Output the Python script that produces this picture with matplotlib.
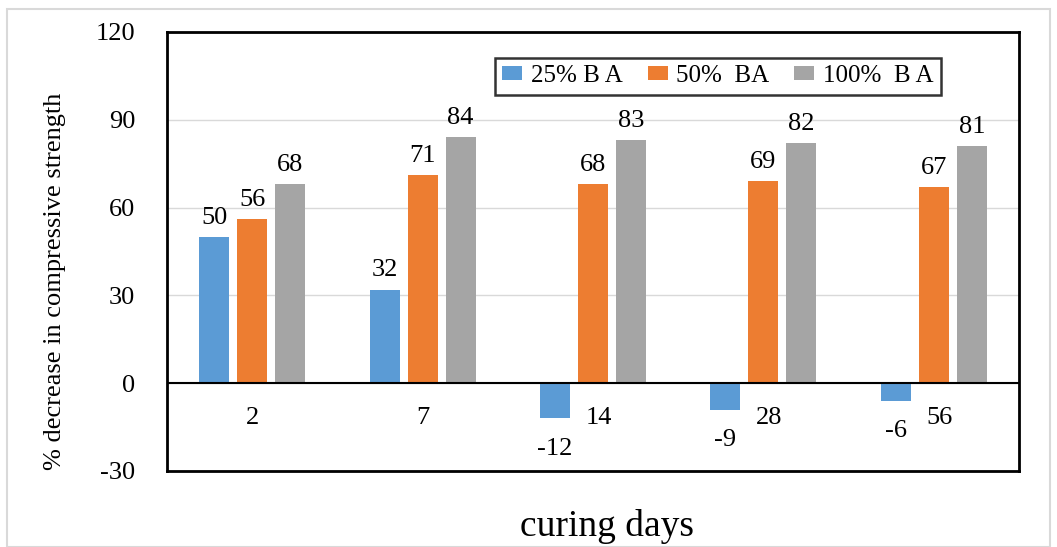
import matplotlib
matplotlib.use("Agg")
import matplotlib.pyplot as plt
from matplotlib.patches import Rectangle
import numpy as np

plt.rcParams['font.family'] = ['Liberation Serif', 'DejaVu Serif']

days = ["2", "7", "14", "28", "56"]
series_names = ["25% B A", "50%  BA", "100%  B A"]
ba25 = [50, 32, -12, -9, -6]
ba50 = [56, 71, 68, 69, 67]
ba100 = [68, 84, 83, 82, 81]
colors = ["#5B9BD5", "#ED7D31", "#A5A5A5"]
yticks = [-30, 0, 30, 60, 90, 120]

NUM_FS = 19

W, H = 1057, 547
fig = plt.figure(figsize=(W / 100, H / 100), dpi=100)

# light outer frame of the chart area
fig.patches.append(Rectangle((7 / W, 0), 1043 / W, 1 - 9 / H, transform=fig.transFigure,
                             fill=False, edgecolor="#D9D9D9", linewidth=1.5))

ax = fig.add_axes([167 / W, 1 - 471 / H, (1019 - 167) / W, (471 - 32) / H])
x = np.arange(len(days))
bw = 0.176
step = 0.223
series = [ba25, ba50, ba100]
bars_all = []
for i, (vals, c, name) in enumerate(zip(series, colors, series_names)):
    bars = ax.bar(x + (i - 1) * step, vals, width=bw, color=c, label=name, zorder=3)
    bars_all.append(bars)

ax.set_xlim(-0.5, len(days) - 0.5)
ax.set_ylim(-30, 120)
ax.set_yticks(yticks)
ax.set_yticklabels([str(t) for t in yticks], fontsize=NUM_FS)
ax.tick_params(axis='y', length=0, pad=23)
ax.set_xticks([])
ax.grid(axis='y', color="#D9D9D9", linewidth=1, zorder=0)
ax.axhline(0, color="black", linewidth=1.5, zorder=4)
for s in ax.spines.values():
    s.set_linewidth(2)
    s.set_color("black")

# value labels
for bars, vals in zip(bars_all, series):
    for b, v in zip(bars, vals):
        cx = b.get_x() + b.get_width() / 2
        if v >= 0:
            ax.annotate(str(v), (cx, v), xytext=(0, 6), textcoords="offset points",
                        ha="center", va="bottom", fontsize=NUM_FS)
        else:
            ax.annotate(str(v), (cx, v), xytext=(0, -14), textcoords="offset points",
                        ha="center", va="top", fontsize=NUM_FS)

# category labels just under the zero line
for xi, d in zip(x, days):
    off = 0 if xi < 2 else 4
    ax.annotate(d, (xi, 0), xytext=(off, -17), textcoords="offset points",
                ha="center", va="top", fontsize=NUM_FS)

fig.text(607 / W, 1 - 527 / H, "curing days", ha="center", va="center", fontsize=27)
fig.text(55 / W, 1 - 281 / H, "% decrease in compressive strength", rotation=90,
         ha="center", va="center", fontsize=19)

leg = ax.legend(loc="upper left", bbox_to_anchor=(482 / W, 1 - 45 / H),
                bbox_transform=fig.transFigure, ncol=3, frameon=True, fontsize=18,
                handlelength=0.8, handleheight=0.5, handletextpad=0.35,
                columnspacing=1.0, borderpad=0.3, fancybox=False)
leg.get_frame().set_edgecolor("black")
leg.get_frame().set_linewidth(1.8)

fig.savefig("out.png", dpi=100)
